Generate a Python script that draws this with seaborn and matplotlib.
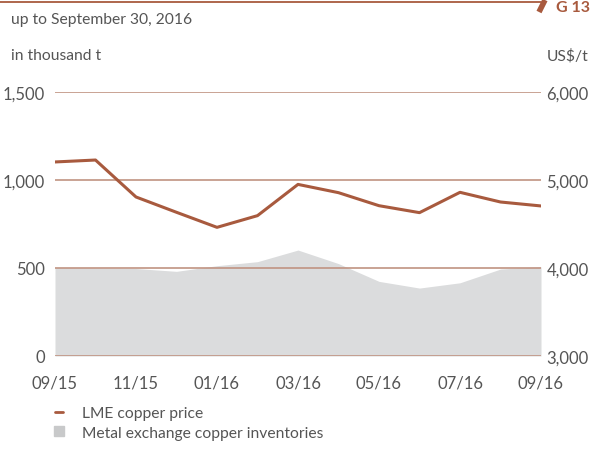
import pandas as pd
import numpy as np
import matplotlib
matplotlib.use("Agg")
import matplotlib.pyplot as plt
import seaborn as sns
from matplotlib.lines import Line2D

# Data (monthly, 09/15 .. 09/16)
months = ["09/15", "10/15", "11/15", "12/15", "01/16", "02/16", "03/16",
          "04/16", "05/16", "06/16", "07/16", "08/16", "09/16"]
inventories = [502, 500, 497, 481, 513, 536, 602, 525, 424, 386, 416, 494, 507]   # thousand t
lme_price = [5205, 5227, 4807, 4633, 4462, 4595, 4950, 4856, 4708, 4629, 4860, 4750, 4705]  # US$/t

df = pd.DataFrame({"month": months, "pos": range(len(months)),
                   "inventories": inventories, "price": lme_price})

brown = "#a85a3e"
grid_col = "#c09382"
grey_fill = "#dbdcdd"
text_col = "#555555"
fs = 11.25

sns.set_style("white")
plt.rcParams["font.family"] = ["Lato", "DejaVu Sans"]

fig = plt.figure(figsize=(6.05, 4.52), dpi=100)
ax = fig.add_axes([55 / 605, 1 - 357 / 452, 486 / 605, 264 / 452])
ax2 = ax.twinx()

# inventories as grey area on the left axis
ax.fill_between(df["pos"], 0, df["inventories"], color=grey_fill, lw=0, zorder=1)
for v in [0, 500, 1000, 1500]:
    ax.axhline(v, color=grid_col, lw=1.2, zorder=2)
ax.set_ylim(0, 1500)
ax.set_xlim(0, 12)
ax.set_yticks([0, 500, 1000, 1500])
ax.set_yticklabels(["0", "500", "1,000", "1,500"])

# LME price on the right axis
sns.lineplot(data=df, x="pos", y="price", ax=ax2, color=brown, lw=2.2, zorder=3)
ax2.set_ylim(3000, 6000)
ax2.set_yticks([3000, 4000, 5000, 6000])
ax2.set_yticklabels(["3,000", "4,000", "5,000", "6,000"])
ax2.set_xlabel("")
ax2.set_ylabel("")

ax.set_xticks(df["pos"][::2])
ax.set_xticklabels(df["month"][::2])

for a in (ax, ax2):
    for s in a.spines.values():
        s.set_visible(False)
    a.tick_params(length=0, colors=text_col, labelsize=12)
ax.tick_params(axis="y", pad=7)
ax2.tick_params(axis="y", pad=4)
ax.tick_params(axis="x", pad=13)
ax.set_xlabel("")
ax.set_ylabel("")

# header
fig.add_artist(Line2D([0, 541 / 605], [1 - 3 / 452, 1 - 3 / 452], color=brown, lw=1.3))
fig.add_artist(Line2D([539 / 605, 545 / 605], [1 - 13 / 452, 1 - 1 / 452], color=brown, lw=4,
                      solid_capstyle="butt"))
fig.text(556 / 605, 1 - 8 / 452, "G 13", color=brown, fontsize=11.5, fontweight="bold",
         va="center", ha="left")
fig.text(11 / 605, 1 - 20 / 452, "up to September 30, 2016", color=text_col, fontsize=fs,
         va="center", ha="left")
fig.text(11 / 605, 1 - 56 / 452, "in thousand t", color=text_col, fontsize=fs,
         va="center", ha="left")
fig.text(589 / 605, 1 - 56 / 452, "US$/t", color=text_col, fontsize=fs,
         va="center", ha="right")

# legend
handles = [Line2D([], [], color=brown, lw=2, marker=None),
           Line2D([], [], color="#c8c9ca", marker="s", ls="", markersize=6.5)]
fig.legend(handles, ["LME copper price", "Metal exchange copper inventories"],
           loc="upper left", bbox_to_anchor=(41 / 605, 1 - 393 / 452), frameon=False,
           handlelength=0.52, handletextpad=1.2, labelspacing=0.35, fontsize=fs,
           labelcolor=text_col)

fig.savefig("out.png", dpi=100)
